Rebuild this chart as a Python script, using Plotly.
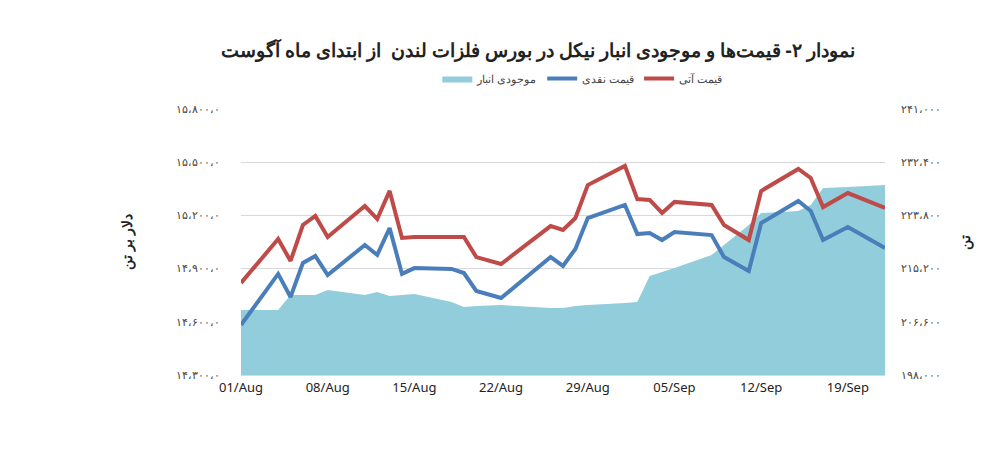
import datetime as dt
import plotly.graph_objects as go

start = dt.date(2016, 8, 1)
day_offsets = [0, 3, 4, 5, 6, 7, 10, 11, 12, 13, 14, 17, 18, 19, 21, 25, 26, 27, 28,
               31, 32, 33, 34, 35, 38, 39, 41, 42, 45, 46, 47, 49, 52]
dates = [start + dt.timedelta(days=d) for d in day_offsets]

cash_price = [14582, 14870, 14740, 14932, 14971, 14864, 15033, 14977, 15129, 14870, 14903,
              14898, 14875, 14774, 14734, 14965, 14915, 15011, 15185, 15259, 15095, 15101,
              15061, 15106, 15089, 14965, 14886, 15157, 15281, 15225, 15061, 15135, 15016]
future_price = [14819, 15067, 14943, 15146, 15197, 15078, 15253, 15180, 15338, 15073, 15078,
                15078, 15078, 14965, 14926, 15140, 15118, 15185, 15371, 15479, 15292, 15287,
                15214, 15276, 15259, 15146, 15061, 15338, 15462, 15411, 15247, 15326, 15242]
stock = [208507, 208507, 210932, 210932, 210932, 211740, 210932, 211417, 210770, 210932,
         211094, 209800, 208992, 209154, 209316, 208831, 208831, 209154, 209316, 209639,
         209800, 214003, 214650, 215297, 217398, 219015, 222248, 224187, 224511, 225481,
         228229, 228390, 228714]

left_ticks = [14300, 14600, 14900, 15200, 15500, 15800]
left_labels = ["۱۴،۳۰۰،۰", "۱۴،۶۰۰،۰", "۱۴،۹۰۰،۰", "۱۵،۲۰۰،۰", "۱۵،۵۰۰،۰", "۱۵،۸۰۰،۰"]
right_ticks = [198000, 206600, 215200, 223800, 232400, 241000]
right_labels = ["۱۹۸،۰۰۰", "۲۰۶،۶۰۰", "۲۱۵،۲۰۰", "۲۲۳،۸۰۰", "۲۳۲،۴۰۰", "۲۴۱،۰۰۰"]

fig = go.Figure()

# stock area sits on the primary (right-hand) axis so the price lines draw on top
fig.add_trace(go.Scatter(x=dates, y=stock, yaxis="y", mode="lines", fill="tozeroy",
                         line=dict(width=0, color="#92CDDC"), fillcolor="#92CDDC",
                         name="موجودی انبار"))
fig.add_trace(go.Scatter(x=dates, y=cash_price, yaxis="y2", mode="lines",
                         line=dict(color="#4A7EBB", width=4), name="قیمت نقدی"))
fig.add_trace(go.Scatter(x=dates, y=future_price, yaxis="y2", mode="lines",
                         line=dict(color="#BE4B48", width=4), name="قیمت آتی"))

fig.update_layout(
    width=1000, height=467,
    margin=dict(l=233, r=123, t=101, b=100, autoexpand=False),
    plot_bgcolor="white", paper_bgcolor="white",
    font=dict(family="Noto Sans", color="#444", size=11),
    title=dict(text="<b>نمودار ۲- قیمت‌ها و موجودی انبار نیکل در بورس فلزات لندن  از ابتدای ماه آگوست</b>",
               x=0.53, y=0.91, xanchor="center", yanchor="middle", font=dict(size=19, color="#222")),
    legend=dict(orientation="h", x=0.53, y=1.06, xanchor="center", yanchor="bottom",
                font=dict(size=11)),
    xaxis=dict(type="date", range=[dates[0], dates[-1]], tickformat="%d/%b",
               tickvals=[start + dt.timedelta(days=7 * i) for i in range(8)],
               showgrid=False, ticks="", tickfont=dict(size=13, color="#222"),
               showline=True, linecolor="#d9d9d9"),
    yaxis=dict(range=[198000, 241000], tickvals=right_ticks, ticktext=right_labels,
               side="right", showgrid=True, gridcolor="#d9d9d9", zeroline=False,
               title=dict(text="<b>تن</b>", font=dict(size=14, color="#222"), standoff=20),
               ticklabelstandoff=15),
    yaxis2=dict(range=[14300, 15800], tickvals=left_ticks, ticktext=left_labels,
                overlaying="y", side="left", showgrid=False, zeroline=False,
                title=dict(text="<b>دلار بر تن</b>", font=dict(size=14, color="#222"), standoff=40),
                ticklabelstandoff=20),
)

fig.write_html("out.html")
